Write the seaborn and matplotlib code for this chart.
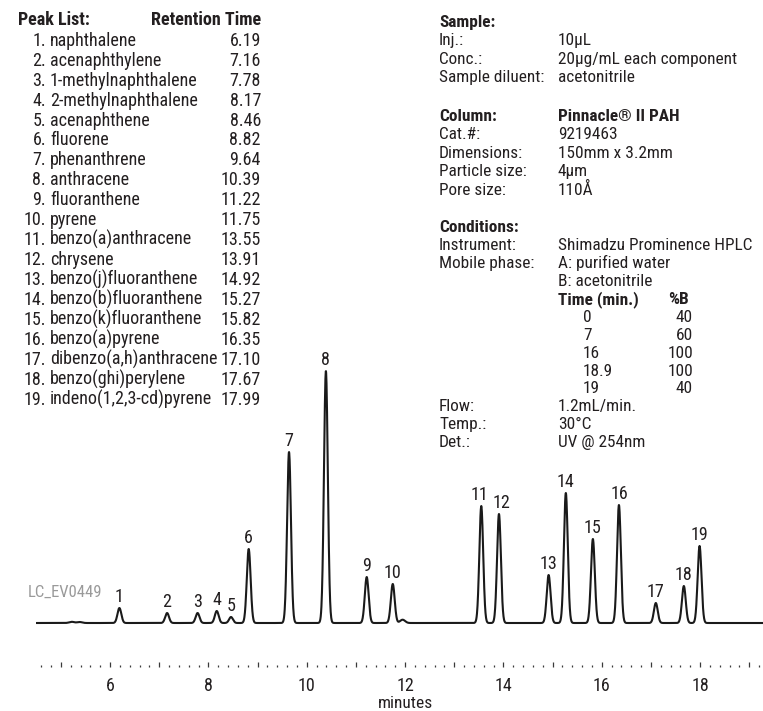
import os
import numpy as np
import pandas as pd
import matplotlib
matplotlib.use("Agg")
import matplotlib.pyplot as plt
import matplotlib.font_manager as fm
from matplotlib.ticker import MultipleLocator, FuncFormatter
import seaborn as sns

# ---------------- data ----------------
peak_ids = list(range(1, 20))
peak_names = ["naphthalene", "acenaphthylene", "1-methylnaphthalene", "2-methylnaphthalene",
              "acenaphthene", "fluorene", "phenanthrene", "anthracene", "fluoranthene", "pyrene",
              "benzo(a)anthracene", "chrysene", "benzo(j)fluoranthene", "benzo(b)fluoranthene",
              "benzo(k)fluoranthene", "benzo(a)pyrene", "dibenzo(a,h)anthracene",
              "benzo(ghi)perylene", "indeno(1,2,3-cd)pyrene"]
retention_times = [6.19, 7.16, 7.78, 8.17, 8.46, 8.82, 9.64, 10.39, 11.22, 11.75,
                   13.55, 13.91, 14.92, 15.27, 15.82, 16.35, 17.10, 17.67, 17.99]
peak_heights = [15, 10, 10, 12, 6, 74, 171, 252, 46, 39,
                117, 109, 48, 130, 84, 118, 20, 37, 77]
minor_rt = [5.22, 5.38, 11.95]
minor_heights = [1.2, 1.0, 3.3]

sample_labels = ["Inj.:", "Conc.:", "Sample diluent:"]
sample_values = ["10µL", "20µg/mL each component", "acetonitrile"]
column_labels = ["Cat.#:", "Dimensions:", "Particle size:", "Pore size:"]
column_values = ["9219463", "150mm x 3.2mm", "4µm", "110Å"]
gradient_time = ["0", "7", "16", "18.9", "19"]
gradient_b = ["40", "60", "100", "100", "40"]

# ---------------- font selection (prefer a condensed face) ----------------
def pick_font(bold):
    files = sorted(set(e.fname for e in fm.fontManager.ttflist))
    cands = []
    for f in files:
        b = os.path.basename(f).lower()
        if not ("narrow" in b or "condensed" in b):
            continue
        if "semi" in b or "extra" in b or "ultra" in b or "italic" in b or "oblique" in b:
            continue
        if any(w in b for w in ["light", "thin", "medium", "black", "heavy"]):
            continue
        if ("bold" in b) != bold:
            continue
        if "liberationsansnarrow" in b:
            rank = 0
        elif "robotocondensed" in b:
            rank = 1
        elif "notosans-condensed" in b or "notosanscondensed" in b:
            rank = 2
        else:
            rank = 3
        cands.append((rank, f))
    if cands:
        cands.sort()
        return cands[0][1]
    return None

REG = pick_font(False)
BLD = pick_font(True)
SCALE = 1.0 if REG is not None else 0.9


def fp(size, bold=False):
    f = BLD if bold else REG
    if f is not None:
        return fm.FontProperties(fname=f, size=size * SCALE)
    return fm.FontProperties(family=["Roboto", "DejaVu Sans"], size=size * SCALE,
                             weight="bold" if bold else "normal")


# ---------------- trace ----------------
t = np.linspace(4.5, 19.28, 4000)
sigma = 0.039
signal = np.zeros_like(t)
for rt, h in zip(retention_times, peak_heights):
    signal += h * np.exp(-0.5 * ((t - rt) / sigma) ** 2)
for rt, h in zip(minor_rt, minor_heights):
    signal += h * np.exp(-0.5 * ((t - rt) / 0.05) ** 2)
df = pd.DataFrame({"minutes": t, "signal": signal})

# ---------------- figure ----------------
sns.set_theme(style="white")
plt.rcParams["font.family"] = ["Roboto", "DejaVu Sans"]
TXT = "#231f20"

W, H = 763, 711
fig = plt.figure(figsize=(W / 100, H / 100), dpi=100)
fig.patch.set_facecolor("white")


def fx(x):
    return x / W


def fy(y):
    return 1 - y / H


ax_left, ax_right = 36.3, 763
ax_top, ax_bot = 360, 667
ax = fig.add_axes([fx(ax_left), fy(ax_bot), (ax_right - ax_left) / W, (ax_bot - ax_top) / H])
sns.lineplot(data=df, x="minutes", y="signal", ax=ax, color="#1a1a1a", linewidth=1.5)
ax.set_xlim(4.5, 19.28)
ax.set_ylim(-44, 263)
for s in ax.spines.values():
    s.set_visible(False)
ax.set_yticks([])
ax.set_ylabel("")
ax.set_xlabel("")
ax.xaxis.set_major_locator(MultipleLocator(1))
ax.xaxis.set_minor_locator(MultipleLocator(0.2))
ax.xaxis.set_major_formatter(FuncFormatter(lambda v, p: f"{v:.0f}" if round(v) % 2 == 0 else ""))
ax.tick_params(axis="x", which="major", direction="in", length=3.6, width=0.9,
               color="#3a3a3a", pad=7, labelcolor=TXT, bottom=True)
ax.tick_params(axis="x", which="minor", direction="in", length=1.7, width=0.9,
               color="#3a3a3a", bottom=True)
for lbl in ax.get_xticklabels():
    lbl.set_fontproperties(fp(13))
ax.text(12, -0.12, "minutes", transform=ax.get_xaxis_transform(), ha="center",
        va="center", fontproperties=fp(12.5), color=TXT)

label_dx = {11: -1.5, 12: 1.5}
for pid, rt, h in zip(peak_ids, retention_times, peak_heights):
    ax.annotate(str(pid), xy=(rt, h), xytext=(label_dx.get(pid, 0), 4),
                textcoords="offset points", ha="center", va="baseline",
                fontproperties=fp(13), color=TXT)

fig.text(fx(28), fy(597), "LC_EV0449", fontproperties=fp(12), color="#9a9a9a", va="baseline")

# ---------------- peak list ----------------
fs = 13
fig.text(fx(18), fy(25), "Peak List:", fontproperties=fp(fs, True), color=TXT, va="baseline")
fig.text(fx(261), fy(25), "Retention Time", fontproperties=fp(fs, True), color=TXT,
         va="baseline", ha="right")
for i, (pid, name, rt) in enumerate(zip(peak_ids, peak_names, retention_times)):
    yb = 45.7 + 19.95 * i
    fig.text(fx(46), fy(yb), f"{pid}.", fontproperties=fp(fs), color=TXT, va="baseline", ha="right")
    fig.text(fx(50), fy(yb), name, fontproperties=fp(fs), color=TXT, va="baseline")
    fig.text(fx(261), fy(yb), f"{rt:.2f}", fontproperties=fp(fs), color=TXT, va="baseline",
             ha="right")

# ---------------- conditions block ----------------
lx, vx = 439, 558
fs2 = 12.4


def lab(x, y, s, bold=False, ha="left"):
    fig.text(fx(x), fy(y), s, fontproperties=fp(fs2, bold), color=TXT, va="baseline", ha=ha)


lab(lx, 26.5, "Sample:", True)
for i, (l, v) in enumerate(zip(sample_labels, sample_values)):
    lab(lx, 45 + 18.6 * i, l)
    lab(vx, 45 + 18.6 * i, v)

lab(lx, 120.7, "Column:", True)
lab(vx, 120.7, "Pinnacle® II PAH", True)
for i, (l, v) in enumerate(zip(column_labels, column_values)):
    lab(lx, 139.3 + 18.5 * i, l)
    lab(vx, 139.3 + 18.5 * i, v)

y0 = 232.3
dy = 17.9
lab(lx, y0, "Conditions:", True)
lab(lx, y0 + dy, "Instrument:")
lab(vx, y0 + dy, "Shimadzu Prominence HPLC")
lab(lx, y0 + 2 * dy, "Mobile phase:")
lab(vx, y0 + 2 * dy, "A: purified water")
lab(vx, y0 + 3 * dy, "B: acetonitrile")
lab(vx, y0 + 4 * dy, "Time (min.)", True)
lab(668, y0 + 4 * dy, "%B", True)
for i, (tt, bb) in enumerate(zip(gradient_time, gradient_b)):
    lab(583, y0 + (5 + i) * dy, tt)
    lab(693, y0 + (5 + i) * dy, bb, ha="right")
lab(lx, y0 + 10 * dy, "Flow:")
lab(vx, y0 + 10 * dy, "1.2mL/min.")
lab(lx, y0 + 11 * dy, "Temp.:")
lab(vx, y0 + 11 * dy, "30°C")
lab(lx, y0 + 12 * dy, "Det.:")
lab(vx, y0 + 12 * dy, "UV @ 254nm")

fig.savefig("out.png", dpi=100, facecolor="white")
